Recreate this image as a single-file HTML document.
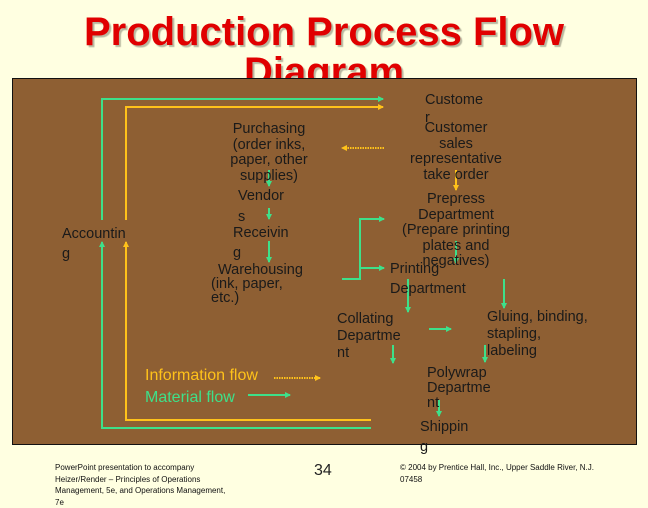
<!DOCTYPE html>
<html><head><meta charset="utf-8"><style>
body{margin:0;width:648px;height:504px;background:#FFFFE1;position:relative;overflow:hidden;font-family:"Liberation Sans",sans-serif}
.t{position:absolute;font-size:14.5px;color:#1a1a1a;white-space:nowrap;line-height:15.5px}
.c{text-align:center}
h1{position:absolute;margin:0;left:0;width:648px;text-align:center;top:12px;font-size:40px;line-height:40px;color:#E00000;font-weight:bold;text-shadow:2px 2px 1px #b8b8a0}
.f{position:absolute;font-size:8px;color:#111;line-height:11.5px;white-space:nowrap}
</style></head><body>
<h1>Production Process Flow<br>Diagram</h1>
<div style="position:absolute;left:12px;top:78px;width:623px;height:365px;background:#8E5F33;border:1px solid #111"></div>
<svg width="648" height="504" style="position:absolute;left:0;top:0">
<defs>
<marker id="g" markerWidth="6" markerHeight="6" refX="5" refY="3" orient="auto" markerUnits="userSpaceOnUse"><path d="M0,0L6,3L0,6z" fill="#3EE08A"/></marker>
<marker id="o" markerWidth="6" markerHeight="6" refX="5" refY="3" orient="auto" markerUnits="userSpaceOnUse"><path d="M0,0L6,3L0,6z" fill="#FFC21A"/></marker>
</defs>
<g fill="none" stroke-width="2">
<path d="M102,220V99H383" stroke="#3EE08A" marker-end="url(#g)"/>
<path d="M126,220V107H383" stroke="#FFC21A" marker-end="url(#o)"/>
<path d="M371,428H102V242" stroke="#3EE08A" marker-end="url(#g)"/>
<path d="M371,420H126V242" stroke="#FFC21A" marker-end="url(#o)"/>
<path d="M384,148H342" stroke="#FFC21A" stroke-dasharray="1.5,1" marker-end="url(#o)"/>
<path d="M456,170V190" stroke="#FFC21A" marker-end="url(#o)"/>
<path d="M342,279H360V219H384M360,268H384" stroke="#3EE08A"/>
<path d="M376,219H384" stroke="#3EE08A" marker-end="url(#g)"/>
<path d="M376,268H384" stroke="#3EE08A" marker-end="url(#g)"/>
<path d="M456,241V263" stroke="#3EE08A" marker-end="url(#g)"/>
<path d="M408,279V312" stroke="#3EE08A" marker-end="url(#g)"/>
<path d="M504,279V308" stroke="#3EE08A" marker-end="url(#g)"/>
<path d="M269,170V186" stroke="#3EE08A" marker-end="url(#g)"/>
<path d="M269,208V219" stroke="#3EE08A" marker-end="url(#g)"/>
<path d="M269,241V262" stroke="#3EE08A" marker-end="url(#g)"/>
<path d="M429,329H451" stroke="#3EE08A" marker-end="url(#g)"/>
<path d="M393,345V363" stroke="#3EE08A" marker-end="url(#g)"/>
<path d="M485,345V362" stroke="#3EE08A" marker-end="url(#g)"/>
<path d="M439,400V416" stroke="#3EE08A" marker-end="url(#g)"/>
<path d="M274,378H320" stroke="#FFC21A" stroke-dasharray="1.5,1" marker-end="url(#o)"/>
<path d="M248,395H290" stroke="#3EE08A" marker-end="url(#g)"/>
</g></svg>
<div class="t c" style="left:209px;width:120px;top:122px">Purchasing<br>(order inks,<br>paper, other<br>supplies)</div>
<div class="t" style="left:238px;top:189px">Vendor</div>
<div class="t" style="left:238px;top:210px">s</div>
<div class="t" style="left:233px;top:226px">Receivin</div>
<div class="t" style="left:233px;top:246px">g</div>
<div class="t" style="left:218px;top:263px">Warehousing</div>
<div class="t" style="left:211px;top:277px;line-height:14px">(ink, paper,<br>etc.)</div>
<div class="t" style="left:62px;top:227px">Accountin</div>
<div class="t" style="left:62px;top:247px">g</div>
<div class="t" style="left:425px;top:93px">Custome</div>
<div class="t" style="left:425px;top:111px">r</div>
<div class="t c" style="left:386px;width:140px;top:121px">Customer<br>sales<br>representative<br>take order</div>
<div class="t c" style="left:376px;width:160px;top:192px">Prepress<br>Department<br>(Prepare printing<br>plates and<br>negatives)</div>
<div class="t" style="left:390px;top:262px">Printing</div>
<div class="t" style="left:390px;top:282px">Department</div>
<div class="t" style="left:337px;top:311px;line-height:17px">Collating<br>Departme<br>nt</div>
<div class="t" style="left:487px;top:309px;line-height:17px">Gluing, binding,<br>stapling,<br>labeling</div>
<div class="t" style="left:427px;top:366px;line-height:15px">Polywrap<br>Departme<br>nt</div>
<div class="t" style="left:420px;top:417px;line-height:20px">Shippin<br>g</div>
<div style="position:absolute;left:145px;top:367px;font-size:16px;color:#FFC21A;line-height:18px">Information flow</div>
<div style="position:absolute;left:145px;top:389px;font-size:16px;color:#3EE08A;line-height:18px">Material flow</div>
<div class="f" style="left:55px;top:462px">PowerPoint presentation to accompany<br>Heizer/Render – Principles of Operations<br>Management, 5e, and Operations Management,<br>7e</div>
<div style="position:absolute;left:314px;top:462px;font-size:16px;color:#222">34</div>
<div class="f" style="left:400px;top:462px">© 2004 by Prentice Hall, Inc., Upper Saddle River, N.J.<br>07458</div>
</body></html>
